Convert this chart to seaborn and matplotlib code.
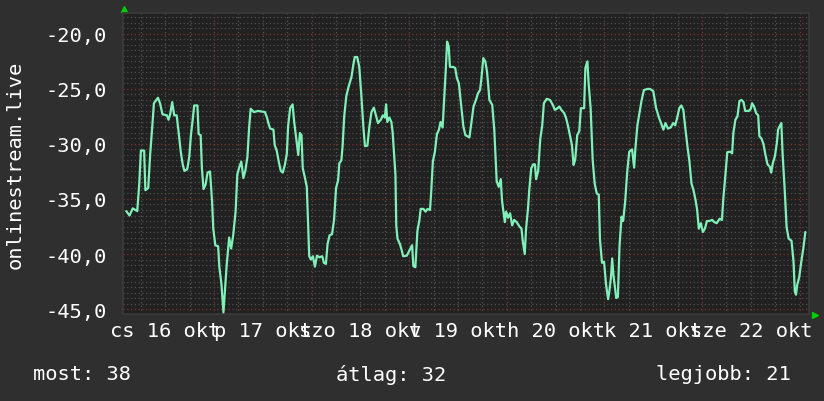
import numpy as np
import matplotlib
matplotlib.use("Agg")
import matplotlib.pyplot as plt
import seaborn as sns
from matplotlib.ticker import FuncFormatter


# Hours since okt 16 00:00
hours = [
    2.4, 3.2, 4.0, 5.1, 5.6, 6.0, 6.8, 7.1, 7.8, 8.3, 8.8, 9.2, 10.2, 10.7, 11.3,
    12.4, 12.8, 13.2, 13.7, 14.2, 14.8, 15.3, 15.8, 16.3, 16.7, 17.4, 17.9, 18.3,
    18.8, 19.1, 19.9, 20.2, 20.7, 21.0, 21.4, 21.9, 22.4, 23.0, 23.5, 23.8, 24.3,
    25.0, 25.3, 25.8, 26.3, 26.7, 27.1, 27.7, 28.2, 28.7,
    29.3, 29.7, 30.2, 30.7, 31.2, 31.7, 32.2, 32.6, 33.0, 33.8, 34.8, 36.5, 37.0,
    37.5, 37.8, 38.6, 38.9, 39.4, 39.9, 40.4, 40.9, 41.4, 41.9, 42.2, 42.7, 43.3,
    43.7, 44.2, 44.7, 45.1, 45.5, 45.8, 46.3, 46.8, 47.1, 47.4, 47.8, 48.3, 48.8,
    49.3, 49.9, 50.6, 51.0, 51.5, 51.9, 52.4, 53.0, 53.5, 54.0, 54.5, 54.8, 55.3,
    55.6, 56.0, 56.5, 57.0,
    57.4, 57.8, 58.2, 58.6, 59.2, 59.7, 60.2, 60.7, 61.1, 61.7, 62.2, 62.7, 63.3,
    63.8, 64.3, 65.0, 65.5, 66.0, 66.3, 66.6, 67.1, 67.6, 67.9, 68.3, 68.6, 68.8,
    69.1, 69.7, 70.1, 70.5, 71.4, 72.0, 72.7, 73.0, 73.5, 74.0, 74.5, 74.8, 75.5,
    76.0, 76.5, 77.1, 77.4, 77.8, 78.3, 78.8, 79.3, 79.7, 80.2, 80.7, 81.0, 81.3,
    81.7, 82.0, 82.8, 83.3, 83.7, 84.2, 84.7, 85.3,
    85.8, 86.8, 87.3, 87.8, 88.4, 88.9, 89.4, 89.7, 90.2, 90.7, 91.1, 91.4, 91.7,
    92.4, 92.9, 93.2, 93.5, 94.0, 94.5, 94.8, 95.1, 95.5, 95.8, 96.3, 96.8, 97.3,
    97.8, 98.4, 99.1, 99.6, 99.9, 100.4, 100.7, 101.2, 101.5, 102.0, 102.5, 102.9,
    103.2, 103.7, 104.2, 104.7, 105.1, 105.8, 106.6, 107.3, 107.8, 108.3, 108.9,
    109.4, 110.1, 110.6, 111.0, 111.5, 112.0, 112.4, 112.8, 113.3,
    113.8, 114.2, 115.0, 115.3, 115.8, 116.1, 116.6, 117.1, 117.6, 118.1, 118.6,
    118.9, 119.4, 119.9, 120.4, 120.9, 121.2, 121.6, 121.9, 122.2, 122.5, 122.9,
    123.3, 123.7, 124.2, 124.6, 125.1, 125.6, 126.1, 126.8, 127.3, 127.6, 128.1,
    128.6, 129.1, 129.7, 130.6, 131.2, 132.0, 132.7, 133.4, 134.0, 134.5, 135.0,
    135.6, 136.3, 136.9, 137.4, 137.9, 138.4, 138.9, 139.4, 139.9, 140.4, 140.9,
    141.4,
    141.9, 142.4, 142.8, 143.2, 143.7, 144.2, 144.7, 145.2, 145.8, 146.5, 147.0,
    147.6, 148.3, 148.9, 149.2, 149.7, 150.2, 150.9, 151.4, 151.7, 152.2, 152.7,
    153.2, 153.7, 154.2, 154.6, 155.5, 156.0, 156.3, 156.8, 157.3, 157.8, 158.1,
    158.6, 159.1, 159.6, 160.1, 160.7, 161.0, 161.4, 161.9, 162.4, 162.7, 163.2,
    163.5, 163.8, 164.3, 164.8, 165.3, 166.0, 166.5, 166.8, 167.1, 167.4, 167.9,
    168.4, 168.9, 169.4,
]

values = [
    -36.1, -36.5, -35.85, -36.1, -33.6, -30.6, -30.6, -34.2, -34.0, -30.85, -28.4,
    -26.3, -25.8, -26.3, -27.3, -27.4, -27.8, -27.3, -26.2, -27.4, -27.4, -29.0,
    -30.7, -31.9, -32.45, -32.3, -31.15, -29.2, -27.6, -26.5, -26.5, -29.1, -29.2,
    -32.2, -34.1, -33.7, -32.6, -32.5, -35.2, -37.7, -39.2, -39.3, -41.2, -42.7,
    -45.3, -43.1, -41.0, -38.5, -39.5, -38.3,
    -36.1, -32.8, -32.1, -31.6, -33.1, -32.4, -31.15, -28.6, -26.8, -27.1, -27.0,
    -27.1, -27.6, -28.3, -28.6, -28.7, -30.1, -30.6, -31.6, -32.45, -32.6, -31.9,
    -30.85, -28.4, -26.75, -26.4, -28.0, -29.5, -31.0, -29.0, -29.2, -32.2, -33.0,
    -33.9, -37.2, -40.2, -40.5, -40.2, -41.15, -40.15, -40.3, -40.2, -40.8, -40.9,
    -39.1, -38.3, -38.2, -36.9, -34.0, -33.3, -31.75, -31.5, -30.2, -27.5, -25.7,
    -24.9,
    -24.4, -23.9, -22.9, -22.1, -22.1, -23.0, -25.5, -28.4, -30.2, -30.15, -28.4,
    -27.1, -26.7, -27.4, -28.1, -27.8, -27.4, -27.6, -26.4, -28.0, -27.6, -28.0,
    -28.9, -31.15, -32.8, -37.4, -38.6, -39.1, -39.6, -40.2, -40.15, -39.7, -39.2,
    -41.1, -41.2, -37.9, -36.9, -35.9, -35.9, -36.15, -35.9, -36.0, -34.3, -31.6,
    -30.7, -29.1, -28.7, -28.0, -28.5, -25.2, -23.1, -20.7, -21.15, -23.0, -23.0,
    -23.1, -24.0, -24.5, -26.3, -28.4,
    -29.2, -29.4, -28.0, -26.6, -26.0, -25.4, -25.1, -24.2, -22.2, -22.5, -23.4,
    -24.6, -26.0, -26.45, -28.7, -31.15, -33.4, -33.9, -33.2, -35.1, -36.0, -37.1,
    -36.15, -36.7, -36.3, -37.4, -36.9, -37.1, -37.5, -37.7, -38.8, -40.0, -37.8,
    -35.85, -34.2, -32.2, -31.85, -31.85, -33.2, -32.45, -29.6, -28.3, -26.3, -25.9,
    -26.0, -26.45, -26.9, -26.8, -26.6, -26.9, -27.2, -27.7, -28.3, -29.2, -30.1,
    -31.9, -31.45, -29.2,
    -28.85, -26.75, -26.75, -23.1, -22.5, -24.5, -26.75, -31.45, -33.6, -34.5,
    -34.6, -38.7, -40.8, -40.7, -42.8, -44.1, -43.4, -42.1, -40.4, -41.9, -42.8,
    -44.0, -43.9, -39.3, -36.6, -37.0, -35.2, -32.5, -30.7, -30.5, -32.15, -30.45,
    -28.3, -27.2, -26.1, -25.1, -25.0, -25.0, -25.2, -26.75, -27.6, -28.2, -28.7,
    -28.1, -28.6, -28.5, -28.1, -28.3, -27.6, -26.75, -26.5, -26.9, -28.6, -30.2,
    -31.6, -33.6,
    -34.2, -35.1, -36.0, -37.7, -37.2, -38.0, -37.7, -37.0, -37.0, -36.9, -37.1,
    -37.2, -36.8, -36.9, -35.1, -33.0, -30.75, -30.7, -30.85, -29.0, -27.8, -27.5,
    -26.1, -26.0, -26.2, -27.0, -27.0, -26.8, -26.3, -26.6, -27.2, -27.4, -29.3,
    -29.5, -30.0, -31.0, -31.85, -32.1, -32.6, -31.75, -31.15, -29.9, -28.7, -28.3,
    -28.1, -30.85, -34.0, -37.6, -38.6, -38.8, -40.7, -43.4, -43.7, -42.8, -42.1,
    -40.7, -39.5, -38.0,
]

day_labels = ['cs 16 okt', 'p 17 okt', 'szo 18 okt', 'v 19 okt',
              'h 20 okt', 'k 21 okt', 'sze 22 okt']
y_ticks = [-45, -40, -35, -30, -25, -20]
stat_names = ['most', 'átlag', 'legjobb']
stat_values = [38, 32, 21]

sns.set_theme(style='dark')
plt.rcParams['font.family'] = ['DejaVu Sans Mono', 'DejaVu Sans']

fig = plt.figure(figsize=(8.24, 4.02), dpi=100, facecolor='#2f2f2f')
ax = fig.add_axes([123 / 824, 87 / 402, 686 / 824, 301 / 402])
ax.set_facecolor('#212121')

# Grid: minor every 6 h / 0.5, major every day / 5
dots = (0, (1, 2))
for h in np.arange(0, 174, 6):
    major = h % 24 == 0
    ax.axvline(h, color='#7a3636' if major else '#555555', lw=0.9, ls=dots, zorder=1)
for v in np.arange(-46, -17.9, 0.5):
    major = v % 5 == 0
    ax.axhline(v, color='#7a3636' if major else '#4f4f4f', lw=0.9, ls=dots, zorder=1)

sns.lineplot(x=hours, y=values, ax=ax, color='#7ff0b8', lw=1.6, zorder=3)

ax.set_xlim(1.6, 170.3)
ax.set_ylim(-45.45, -18.1)
ax.set_xticks([12 + 24 * i for i in range(len(day_labels))], day_labels)
ax.set_yticks(y_ticks)
ax.yaxis.set_major_formatter(FuncFormatter(lambda v, p: f'{v:.1f}'.replace('.', ',')))
ax.tick_params(axis='x', colors='white', labelsize=14.7, length=0, pad=5.4)
ax.tick_params(axis='y', colors='white', labelsize=14.7, length=0, pad=11.5)
ax.grid(False)
for s in ax.spines.values():
    s.set_color('#3a3a3a')
    s.set_linewidth(1.2)

# little green arrows at the axis ends
ax.plot([0.002], [1.013], marker='^', color='#00cc00', ms=5, transform=ax.transAxes, clip_on=False)
ax.plot([1.009], [-0.003], marker='>', color='#00cc00', ms=5, transform=ax.transAxes, clip_on=False)

fig.text(15 / 824, (402 - 165) / 402, 'onlinestream.live', rotation=90, color='white',
         fontsize=14.7, ha='center', va='center')

stat_x = [33 / 824, 336 / 824, 791 / 824]
stat_ha = ['left', 'left', 'right']
for name, val, x, ha in zip(stat_names, stat_values, stat_x, stat_ha):
    fig.text(x, (402 - 375) / 402, f'{name}: {val}', color='white', fontsize=14.7,
             ha=ha, va='center')

fig.savefig('out.png', dpi=100, facecolor=fig.get_facecolor())
